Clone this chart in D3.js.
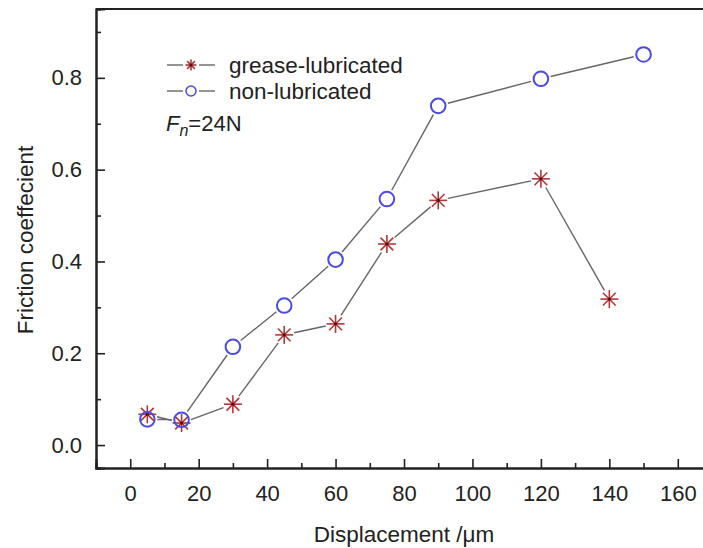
<!DOCTYPE html>
<html><head><meta charset="utf-8">
<script src="https://cdn.jsdelivr.net/npm/d3@7"></script>
<style>body{margin:0;background:#fff}svg{display:block}text{font-family:"Liberation Sans",Arial,sans-serif;fill:#222}</style>
</head><body>
<svg id="c" width="703" height="548"></svg>
<script>
const displacement = [5, 15, 30, 45, 60, 75, 90, 120, 140, 150];
const greaseX = [5, 15, 30, 45, 60, 75, 90, 120, 140];
const greaseY = [0.067, 0.048, 0.089, 0.240, 0.264, 0.438, 0.533, 0.580, 0.318];
const nonX = [5, 15, 30, 45, 60, 75, 90, 120, 150];
const nonY = [0.056, 0.055, 0.214, 0.304, 0.404, 0.536, 0.739, 0.798, 0.851];
const xTicks = [0, 20, 40, 60, 80, 100, 120, 140, 160];
const yTicks = [0.0, 0.2, 0.4, 0.6, 0.8];
const seriesNames = ["grease-lubricated", "non-lubricated"];

const svg = d3.select("#c");
const x = d3.scaleLinear().domain([-10, 170]).range([96, 712]);
const y = d3.scaleLinear().domain([-0.05, 0.95]).range([468, 9]);
const ink = "#222";
const FONT = '"Liberation Sans",Arial,sans-serif';

// frame (top + left + bottom)
svg.append("line").attr("x1", 96).attr("x2", 712).attr("y1", 9).attr("y2", 9).attr("stroke", ink).attr("stroke-width", 2);

const gx = svg.append("g").attr("transform", "translate(0,468)");
gx.call(d3.axisBottom(x).tickValues(xTicks).tickSize(-9).tickPadding(17).tickFormat(d3.format("d")));
gx.append("g").call(d3.axisBottom(x).tickValues(d3.range(10, 170, 20)).tickSize(-5).tickFormat(""));
gx.selectAll(".domain").attr("stroke", ink).attr("stroke-width", 2);
gx.selectAll("line").attr("stroke", ink).attr("stroke-width", 1.6);
gx.selectAll("text").attr("font-size", 22).attr("fill", ink).style("font-family", FONT);

const gy = svg.append("g").attr("transform", "translate(96,0)");
gy.call(d3.axisLeft(y).tickValues(yTicks).tickSize(-9).tickPadding(14).tickFormat(d3.format(".1f")));
gy.append("g").call(d3.axisLeft(y).tickValues([0.1, 0.3, 0.5, 0.7, 0.9]).tickSize(-5).tickFormat(""));
gy.selectAll(".domain").attr("stroke", ink).attr("stroke-width", 2);
gy.selectAll("line").attr("stroke", ink).attr("stroke-width", 1.6);
gy.selectAll("text").attr("font-size", 22).attr("fill", ink).style("font-family", FONT);

// axis titles
svg.append("text").attr("x", 404).attr("y", 542).attr("text-anchor", "middle").attr("font-size", 22.5).text("Displacement /μm");
svg.append("text").attr("transform", "translate(33,240) rotate(-90)").attr("text-anchor", "middle").attr("font-size", 22.5).text("Friction coeffecient");

const lineColor = "#666";
function gappedSegments(g, pts, gap) {
  for (let i = 0; i < pts.length - 1; i++) {
    const [x1, y1] = pts[i], [x2, y2] = pts[i + 1];
    const dx = x2 - x1, dy = y2 - y1, L = Math.hypot(dx, dy);
    if (L <= 2 * gap) continue;
    const ux = dx / L, uy = dy / L;
    g.append("line").attr("x1", x1 + ux * gap).attr("y1", y1 + uy * gap)
      .attr("x2", x2 - ux * gap).attr("y2", y2 - uy * gap)
      .attr("stroke", lineColor).attr("stroke-width", 1.4);
  }
}
const starColor = "#b03838";
function star(g, cx, cy, r) {
  const s = g.append("g").attr("transform", `translate(${cx},${cy})`);
  for (let k = 0; k < 4; k++) {
    const a = k * Math.PI / 4;
    s.append("line").attr("x1", -r * Math.cos(a)).attr("y1", -r * Math.sin(a))
      .attr("x2", r * Math.cos(a)).attr("y2", r * Math.sin(a))
      .attr("stroke", starColor).attr("stroke-width", 1.6);
  }
  s.append("circle").attr("r", 1.6).attr("fill", "#5a1010");
}
const circColor = "#4a4ae6";
function ring(g, cx, cy, r, w) {
  g.append("circle").attr("cx", cx).attr("cy", cy).attr("r", r).attr("fill", "none")
    .attr("stroke", circColor).attr("stroke-width", w);
}

const plot = svg.append("g");
const gPts = greaseX.map((d, i) => [x(d), y(greaseY[i])]);
const nPts = nonX.map((d, i) => [x(d), y(nonY[i])]);
gappedSegments(plot, gPts, 10);
gappedSegments(plot, nPts, 10);
gPts.forEach(p => star(plot, p[0], p[1], 9));
nPts.forEach(p => ring(plot, p[0], p[1], 7.3, 2));

// legend
const leg = svg.append("g");
[[65, "star"], [91, "ring"]].forEach(([ly, kind], i) => {
  leg.append("line").attr("x1", 167).attr("x2", 183).attr("y1", ly).attr("y2", ly).attr("stroke", lineColor).attr("stroke-width", 1.4);
  leg.append("line").attr("x1", 199).attr("x2", 215).attr("y1", ly).attr("y2", ly).attr("stroke", lineColor).attr("stroke-width", 1.4);
  if (kind === "star") star(leg, 191, ly, 5.5); else ring(leg, 191, ly, 5, 1.5);
  leg.append("text").attr("x", 229).attr("y", ly + 7.5).attr("font-size", 22.5).text(seriesNames[i]);
});
const fn = leg.append("text").attr("x", 166).attr("y", 131).attr("font-size", 22);
fn.append("tspan").attr("font-style", "italic").text("F");
fn.append("tspan").attr("font-style", "italic").attr("font-size", 16).attr("dy", 5).text("n");
fn.append("tspan").attr("dy", -5).text("=24N");
</script>
</body></html>
